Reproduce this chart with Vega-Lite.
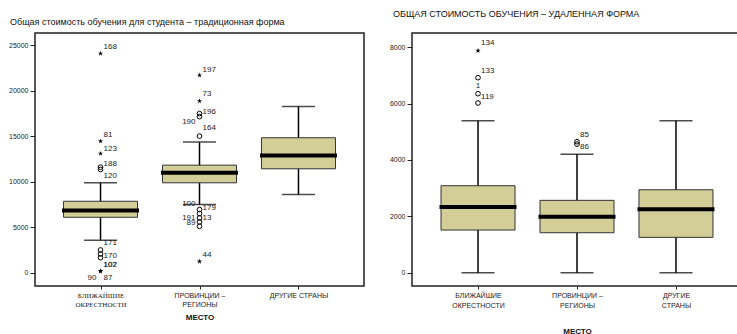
{
  "$schema": "https://vega.github.io/schema/vega-lite/v6.json",
  "padding": {"left": 7, "top": 9, "right": 0, "bottom": 0},
  "spacing": 23,
  "background": "white",
  "config": {
    "view": {"stroke": "#222", "strokeWidth": 1.5},
    "axis": {"labelFont": "Liberation Sans", "labelFontSize": 7, "labelColor": "#222", "tickColor": "#222", "domain": false, "grid": false, "tickSize": 5, "labelPadding": 2},
    "title": {"font": "Liberation Sans", "fontSize": 9, "fontWeight": "normal", "anchor": "start", "frame": "group", "color": "#111"},
    "text": {"font": "Liberation Sans", "fontSize": 8, "color": "#222", "baseline": "middle"}
  },
  "datasets": {
    "L_box": [
      {"g": "A", "lo": 3557, "q1": 6090, "med": 6828, "q3": 7853, "hi": 9879},
      {"g": "B", "lo": 7490, "q1": 9880, "med": 10980, "q3": 11820, "hi": 14350},
      {"g": "C", "lo": 8590, "q1": 11420, "med": 12890, "q3": 14830, "hi": 18250}
    ],
    "L_out": [
      {"g": "A", "v": 24090, "t": "extreme"},
      {"g": "A", "v": 14460, "t": "extreme"},
      {"g": "A", "v": 13100, "t": "extreme"},
      {"g": "A", "v": 11600, "t": "outlier"},
      {"g": "A", "v": 11350, "t": "outlier"},
      {"g": "A", "v": 2500, "t": "outlier"},
      {"g": "A", "v": 2060, "t": "outlier"},
      {"g": "A", "v": 1650, "t": "outlier"},
      {"g": "A", "v": 200, "t": "extreme"},
      {"g": "A", "v": 150, "t": "extreme"},
      {"g": "B", "v": 21700, "t": "extreme"},
      {"g": "B", "v": 18870, "t": "extreme"},
      {"g": "B", "v": 17480, "t": "outlier"},
      {"g": "B", "v": 17150, "t": "outlier"},
      {"g": "B", "v": 15010, "t": "outlier"},
      {"g": "B", "v": 6940, "t": "outlier"},
      {"g": "B", "v": 6500, "t": "outlier"},
      {"g": "B", "v": 6020, "t": "outlier"},
      {"g": "B", "v": 5580, "t": "outlier"},
      {"g": "B", "v": 5100, "t": "outlier"},
      {"g": "B", "v": 1240, "t": "extreme"}
    ],
    "L_labR": [
      {"g": "A", "v": 24770, "lab": "168"},
      {"g": "A", "v": 15160, "lab": "81"},
      {"g": "A", "v": 13590, "lab": "123"},
      {"g": "A", "v": 11910, "lab": "188"},
      {"g": "A", "v": 10660, "lab": "120"},
      {"g": "A", "v": 3260, "lab": "171"},
      {"g": "A", "v": 1840, "lab": "170"},
      {"g": "A", "v": 850, "lab": "102"},
      {"g": "A", "v": 850, "lab": "107"},
      {"g": "A", "v": -550, "lab": "87"},
      {"g": "B", "v": 22280, "lab": "197"},
      {"g": "B", "v": 19640, "lab": "73"},
      {"g": "B", "v": 17660, "lab": "196"},
      {"g": "B", "v": 15900, "lab": "164"},
      {"g": "B", "v": 7110, "lab": "179"},
      {"g": "B", "v": 6040, "lab": "13"},
      {"g": "B", "v": 1950, "lab": "44"}
    ],
    "L_labL": [
      {"g": "A", "v": -550, "lab": "90"},
      {"g": "B", "v": 16590, "lab": "190"},
      {"g": "B", "v": 7550, "lab": "100"},
      {"g": "B", "v": 6040, "lab": "191"},
      {"g": "B", "v": 5460, "lab": "89"}
    ],
    "R_box": [
      {"g": "A", "lo": 0, "q1": 1514, "med": 2330, "q3": 3085, "hi": 5390},
      {"g": "B", "lo": 0, "q1": 1418, "med": 1986, "q3": 2567, "hi": 4199},
      {"g": "C", "lo": 0, "q1": 1255, "med": 2248, "q3": 2943, "hi": 5390}
    ],
    "R_out": [
      {"g": "A", "v": 7872, "t": "extreme"},
      {"g": "A", "v": 6915, "t": "outlier"},
      {"g": "A", "v": 6348, "t": "outlier"},
      {"g": "A", "v": 6018, "t": "outlier"},
      {"g": "B", "v": 4645, "t": "outlier"},
      {"g": "B", "v": 4560, "t": "outlier"}
    ],
    "R_labR": [
      {"g": "A", "v": 8130, "lab": "134"},
      {"g": "A", "v": 7150, "lab": "133"},
      {"g": "A", "v": 6230, "lab": "119"},
      {"g": "B", "v": 4880, "lab": "85"},
      {"g": "B", "v": 4445, "lab": "86"}
    ],
    "R_labC": [
      {"g": "A", "v": 6630, "lab": "1"}
    ]
  },
  "hconcat": [
    {
      "width": 329,
      "height": 253,
      "title": {"text": "Общая стоимость обучения для студента – традиционная форма", "offset": 6, "dx": -25},
      "encoding": {
        "x": {
          "field": "g", "type": "nominal",
          "scale": {"type": "point", "padding": 0.662, "domain": ["A", "B", "C"]},
          "axis": {
            "title": "МЕСТО", "titleFont": "Liberation Sans", "titleFontSize": 8, "titleFontWeight": "bold", "titleColor": "#111", "titlePadding": 6,
            "labelAngle": 0, "tickSize": 3, "labelLineHeight": 9, "labelFontSize": 7,
            "labelExpr": "datum.value == 'A' ? ['БЛИЖАЙШИЕ', 'ОКРЕСТНОСТИ'] : datum.value == 'B' ? ['ПРОВИНЦИИ –', 'РЕГИОНЫ'] : 'ДРУГИЕ СТРАНЫ'",
            "labelFont": {"condition": {"test": "datum.value == 'A'", "value": "Liberation Serif"}, "value": "Liberation Sans"}
          }
        }
      },
      "layer": [
        {
          "data": {"name": "L_box"},
          "mark": {"type": "rule", "color": "#000", "strokeWidth": 1.5},
          "encoding": {"y": {"field": "lo", "type": "quantitative", "scale": {"domain": [-1460, 26340], "nice": false, "zero": false}, "axis": {"title": null, "format": "d", "values": [0, 5000, 10000, 15000, 20000, 25000]}}, "y2": {"field": "hi"}}
        },
        {
          "data": {"name": "L_box"},
          "mark": {"type": "tick", "color": "#000", "size": 33, "thickness": 1.5},
          "encoding": {"y": {"field": "lo", "type": "quantitative"}}
        },
        {
          "data": {"name": "L_box"},
          "mark": {"type": "tick", "color": "#000", "size": 33, "thickness": 1.5},
          "encoding": {"y": {"field": "hi", "type": "quantitative"}}
        },
        {
          "data": {"name": "L_box"},
          "mark": {"type": "bar", "size": 74, "fill": "#d3ce98", "stroke": "#333", "strokeWidth": 1},
          "encoding": {"y": {"field": "q1", "type": "quantitative"}, "y2": {"field": "q3"}}
        },
        {
          "data": {"name": "L_box"},
          "mark": {"type": "tick", "color": "#000", "size": 77, "thickness": 4, "opacity": 1},
          "encoding": {"y": {"field": "med", "type": "quantitative"}}
        },
        {
          "data": {"name": "L_out"},
          "transform": [{"filter": "datum.t == 'outlier'"}],
          "mark": {"type": "point", "shape": "circle", "filled": false, "stroke": "#000", "strokeWidth": 1, "size": 22, "opacity": 1},
          "encoding": {"y": {"field": "v", "type": "quantitative"}}
        },
        {
          "data": {"name": "L_out"},
          "transform": [{"filter": "datum.t == 'extreme'"}],
          "mark": {"type": "point", "shape": "M0,-1L0.22,-0.31L0.95,-0.31L0.36,0.12L0.59,0.81L0,0.38L-0.59,0.81L-0.36,0.12L-0.95,-0.31L-0.22,-0.31Z", "filled": true, "fill": "#000", "size": 30, "opacity": 1},
          "encoding": {"y": {"field": "v", "type": "quantitative"}}
        },
        {
          "data": {"name": "L_labR"},
          "mark": {"type": "text", "align": "left", "dx": 3},
          "encoding": {"y": {"field": "v", "type": "quantitative"}, "text": {"field": "lab"}}
        },
        {
          "data": {"name": "L_labL"},
          "mark": {"type": "text", "align": "right", "dx": -4},
          "encoding": {"y": {"field": "v", "type": "quantitative"}, "text": {"field": "lab"}}
        }
      ]
    },
    {
      "width": 330,
      "height": 253,
      "title": {"text": "ОБЩАЯ СТОИМОСТЬ  ОБУЧЕНИЯ – УДАЛЕННАЯ ФОРМА", "offset": 14, "dx": -19},
      "encoding": {
        "x": {
          "field": "g", "type": "nominal",
          "scale": {"type": "point", "padding": 0.667, "domain": ["A", "B", "C"]},
          "axis": {
            "title": "МЕСТО", "titleFont": "Liberation Sans", "titleFontSize": 8, "titleFontWeight": "bold", "titleColor": "#111", "titlePadding": 19,
            "labelAngle": 0, "tickSize": 3, "labelLineHeight": 10, "labelFontSize": 7,
            "labelExpr": "datum.value == 'A' ? ['БЛИЖАЙШИЕ', 'ОКРЕСТНОСТИ'] : datum.value == 'B' ? ['ПРОВИНЦИИ –', 'РЕГИОНЫ'] : ['ДРУГИЕ', 'СТРАНЫ']"
          }
        }
      },
      "layer": [
        {
          "data": {"name": "R_box"},
          "mark": {"type": "rule", "color": "#000", "strokeWidth": 1.5},
          "encoding": {"y": {"field": "lo", "type": "quantitative", "scale": {"domain": [-470, 8500], "nice": false, "zero": false}, "axis": {"title": null, "format": "d", "values": [0, 2000, 4000, 6000, 8000]}}, "y2": {"field": "hi"}}
        },
        {
          "data": {"name": "R_box"},
          "mark": {"type": "tick", "color": "#000", "size": 33, "thickness": 1.5},
          "encoding": {"y": {"field": "lo", "type": "quantitative"}}
        },
        {
          "data": {"name": "R_box"},
          "mark": {"type": "tick", "color": "#000", "size": 33, "thickness": 1.5},
          "encoding": {"y": {"field": "hi", "type": "quantitative"}}
        },
        {
          "data": {"name": "R_box"},
          "mark": {"type": "bar", "size": 74, "fill": "#d3ce98", "stroke": "#333", "strokeWidth": 1},
          "encoding": {"y": {"field": "q1", "type": "quantitative"}, "y2": {"field": "q3"}}
        },
        {
          "data": {"name": "R_box"},
          "mark": {"type": "tick", "color": "#000", "size": 77, "thickness": 4, "opacity": 1},
          "encoding": {"y": {"field": "med", "type": "quantitative"}}
        },
        {
          "data": {"name": "R_out"},
          "transform": [{"filter": "datum.t == 'outlier'"}],
          "mark": {"type": "point", "shape": "circle", "filled": false, "stroke": "#000", "strokeWidth": 1, "size": 22, "opacity": 1},
          "encoding": {"y": {"field": "v", "type": "quantitative"}}
        },
        {
          "data": {"name": "R_out"},
          "transform": [{"filter": "datum.t == 'extreme'"}],
          "mark": {"type": "point", "shape": "M0,-1L0.22,-0.31L0.95,-0.31L0.36,0.12L0.59,0.81L0,0.38L-0.59,0.81L-0.36,0.12L-0.95,-0.31L-0.22,-0.31Z", "filled": true, "fill": "#000", "size": 30, "opacity": 1},
          "encoding": {"y": {"field": "v", "type": "quantitative"}}
        },
        {
          "data": {"name": "R_labR"},
          "mark": {"type": "text", "align": "left", "dx": 3},
          "encoding": {"y": {"field": "v", "type": "quantitative"}, "text": {"field": "lab"}}
        },
        {
          "data": {"name": "R_labC"},
          "mark": {"type": "text", "align": "center", "dx": 0},
          "encoding": {"y": {"field": "v", "type": "quantitative"}, "text": {"field": "lab"}}
        }
      ]
    }
  ]
}
